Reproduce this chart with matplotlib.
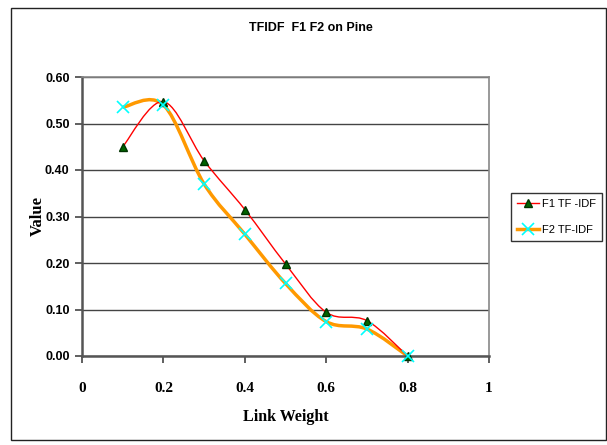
import numpy as np
import matplotlib.pyplot as plt
from matplotlib.path import Path
from matplotlib.patches import PathPatch, Rectangle
from matplotlib.lines import Line2D

link_weight = [0.1, 0.2, 0.3, 0.4, 0.5, 0.6, 0.7, 0.8]
f1_tfidf = [0.45, 0.547, 0.42, 0.315, 0.198, 0.094, 0.076, 0.0]
f2_tfidf = [0.535, 0.54, 0.37, 0.262, 0.156, 0.074, 0.058, 0.0]
y_ticks = [0.0, 0.1, 0.2, 0.3, 0.4, 0.5, 0.6]
x_ticks = [0, 0.2, 0.4, 0.6, 0.8, 1]
x_labels = ['0', '0.2', '0.4', '0.6', '0.8', '1']


def smooth_path(xs, ys):
    # Excel style smoothed line: bezier segments through every point
    pts = np.column_stack([xs, ys])
    pad = np.vstack([pts[0], pts, pts[-1]])
    verts = [pts[0]]
    codes = [Path.MOVETO]
    for i in range(len(pts) - 1):
        p0, p1, p2, p3 = pad[i], pad[i + 1], pad[i + 2], pad[i + 3]
        verts += [p1 + (p2 - p0) / 6, p2 - (p3 - p1) / 6, p2]
        codes += [Path.CURVE4] * 3
    return Path(verts, codes)


dpi = 100
fig = plt.figure(dpi=dpi, figsize=(607 / dpi, 445 / dpi))
ax = fig.add_axes([82 / 607, 1 - 356 / 445, 407 / 607, 279 / 445])

ax.set_xlim(0, 1)
ax.set_ylim(0, 0.6)
ax.yaxis.grid(True, color='#444444', linewidth=1, zorder=1)

ax.add_patch(PathPatch(smooth_path(link_weight, f2_tfidf), fill=False,
                       edgecolor='#FF9900', linewidth=2.5, zorder=2))
ax.add_patch(PathPatch(smooth_path(link_weight, f1_tfidf), fill=False,
                       edgecolor='#FF0000', linewidth=1, zorder=3))
ax.plot(link_weight, f1_tfidf, linestyle='none', marker='^', markersize=6,
        color='#006400', markeredgecolor='#003300', zorder=4, clip_on=False)
ax.plot(link_weight, f2_tfidf, linestyle='none', marker='x', markersize=9,
        markeredgewidth=1.2, color='#00FFFF', zorder=5, clip_on=False)

ax.set_yticks(y_ticks)
ax.set_yticklabels(['%.2f' % v for v in y_ticks], fontfamily='Liberation Sans',
                   fontweight='bold', fontsize=9)
ax.set_xticks(x_ticks)
ax.set_xticklabels(x_labels, fontfamily='Liberation Serif',
                   fontweight='bold', fontsize=11)
ax.tick_params(axis='both', length=5, width=1.2, color='#444444', direction='out')
ax.tick_params(axis='x', pad=14)
ax.tick_params(axis='y', pad=4)

for side in ['left', 'bottom']:
    ax.spines[side].set_color('#555555')
    ax.spines[side].set_linewidth(1.8)
for side in ['top', 'right']:
    ax.spines[side].set_color('#888888')
    ax.spines[side].set_linewidth(1.2)

ax.set_xlabel('Link Weight', fontfamily='Liberation Serif', fontweight='bold',
              fontsize=11.5, labelpad=10)
ax.set_ylabel('Value', fontfamily='Liberation Serif', fontweight='bold',
              fontsize=12, labelpad=-1)

fig.text(311 / 607, 1 - 28 / 445, 'TFIDF  F1 F2 on Pine', ha='center', va='center',
         fontfamily='Liberation Sans', fontweight='bold', fontsize=9)

handles = [
    Line2D([], [], color='#FF0000', linewidth=1, marker='^', markersize=6,
           markerfacecolor='#006400', markeredgecolor='#003300'),
    Line2D([], [], color='#FF9900', linewidth=2.5, marker='x', markersize=9,
           markeredgewidth=1.2, markeredgecolor='#00FFFF'),
]
leg = fig.legend(handles, ['F1 TF -IDF', 'F2 TF-IDF'], loc='upper left',
                 bbox_to_anchor=(511 / 607, 1 - 193 / 445), fancybox=False,
                 edgecolor='#333333', framealpha=1, handlelength=2.0,
                 handletextpad=0.3, borderpad=0.5, labelspacing=1.5,
                 borderaxespad=0, prop={'family': 'Liberation Sans', 'size': 8})
leg.get_frame().set_linewidth(1)

fig.patches.append(Rectangle((11 / 607, 1 - 440 / 445), 594.5 / 607, 432 / 445,
                             transform=fig.transFigure, fill=False,
                             edgecolor='#222222', linewidth=1))

fig.savefig('out.png')
